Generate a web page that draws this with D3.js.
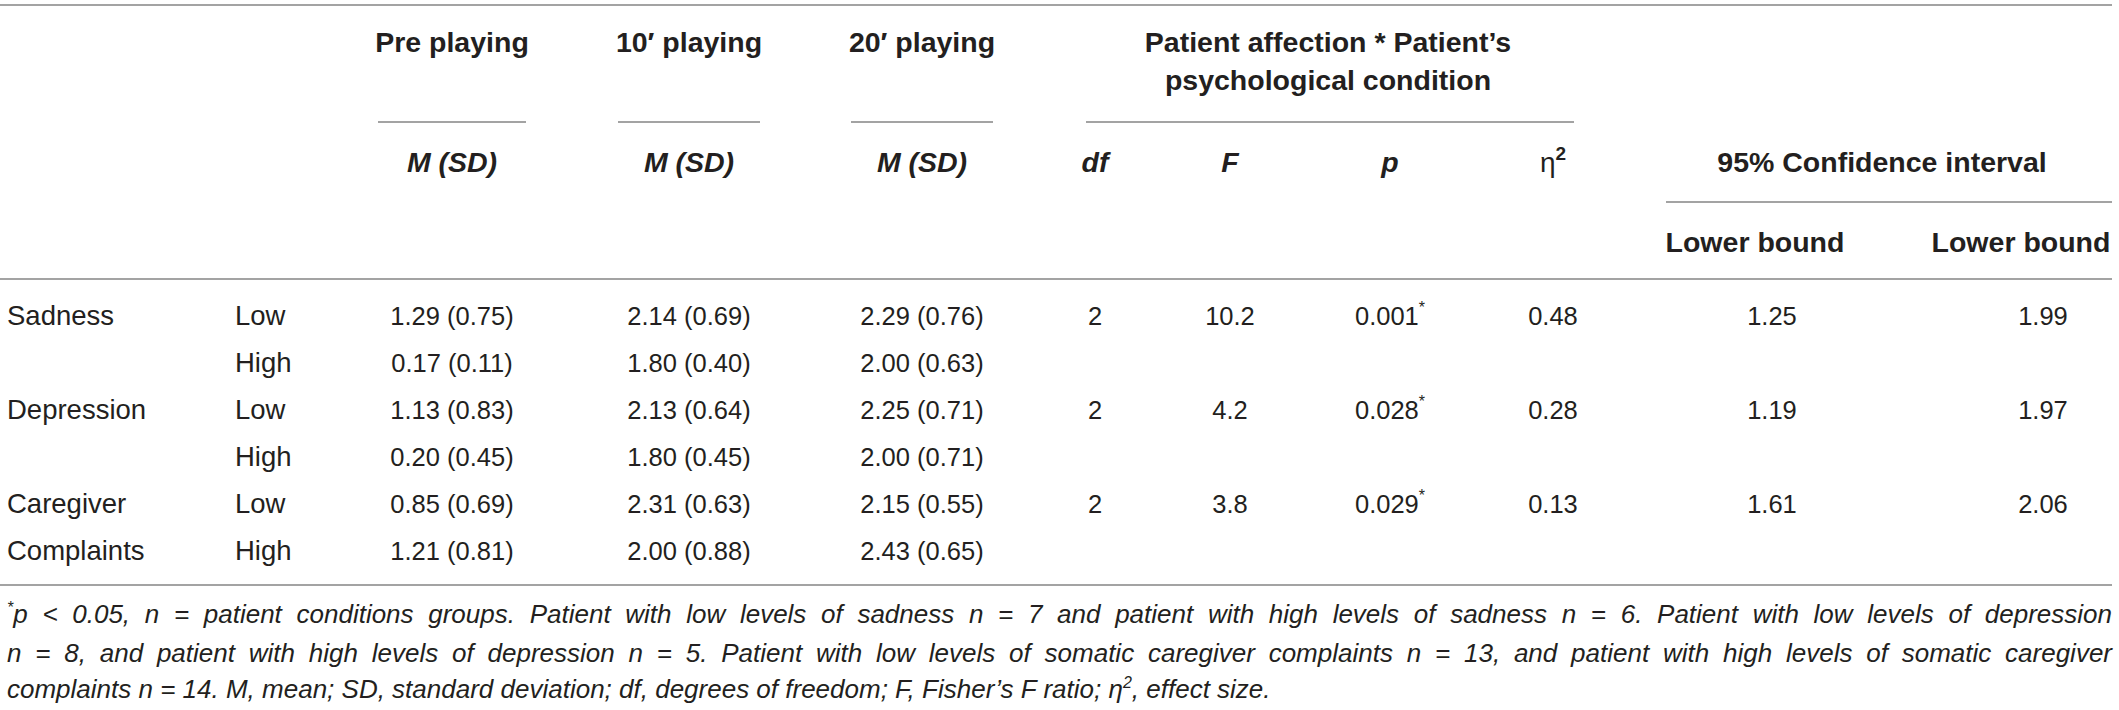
<!DOCTYPE html>
<html>
<head>
<meta charset="utf-8">
<script src="https://cdn.jsdelivr.net/npm/d3@7"></script>
<style>
  html, body { margin: 0; padding: 0; background: #fff; }
  svg { display: block; font-family: "Liberation Sans", Arial, sans-serif; }
</style>
</head>
<body>
<div id="table"></div>
<script>
// table values, one row per condition level
const groupLabels = ["Sadness", "", "Depression", "", "Caregiver", "Complaints"]
const levels = ["Low", "High", "Low", "High", "Low", "High"]
const preMean = [1.29, 0.17, 1.13, 0.20, 0.85, 1.21]
const preSD = [0.75, 0.11, 0.83, 0.45, 0.69, 0.81]
const min10Mean = [2.14, 1.80, 2.13, 1.80, 2.31, 2.00]
const min10SD = [0.69, 0.40, 0.64, 0.45, 0.63, 0.88]
const min20Mean = [2.29, 2.00, 2.25, 2.00, 2.15, 2.43]
const min20SD = [0.76, 0.63, 0.71, 0.71, 0.55, 0.65]

// interaction stats, one per affection (on the "Low" row)
const dfValues = [2, 2, 2]
const fValues = [10.2, 4.2, 3.8]
const pValues = [0.001, 0.028, 0.029]
const etaValues = [0.48, 0.28, 0.13]
const ciLower = [1.25, 1.19, 1.61]
const ciUpper = [1.99, 1.97, 2.06]

const footnote = [
    [["sup", "*"], ["it", "p < 0.05, n = patient conditions groups. Patient with low levels of sadness n = 7 and patient with high levels of sadness n = 6. Patient with low levels of depression"]],
    [["it", "n = 8, and patient with high levels of depression n = 5. Patient with low levels of somatic caregiver complaints n = 13, and patient with high levels of somatic caregiver"]],
    [["it", "complaints n = 14. M, mean; SD, standard deviation; df, degrees of freedom; F, Fisher\u2019s F ratio; \u03b7"], ["sup", "2"], ["it", ", effect size."]]
]

const W = 2119, H = 710
const ink = "#231f20"
const rule = "#a3a3a3"

const svg = d3.select("#table").append("svg")
    .attr("width", W)
    .attr("height", H)

const colX = d3.scaleOrdinal()
    .domain(["group", "level", "pre", "m10", "m20", "df", "F", "p", "eta", "lo", "hi"])
    .range([7, 235, 452, 689, 922, 1095, 1230, 1390, 1553, 1772, 2043])

const rowY = d3.scaleLinear().domain([0, 5]).range([325, 560])

const f2 = d3.format(".2f"), f1 = d3.format(".1f"), f3 = d3.format(".3f")

function line(x1, x2, y) {
    svg.append("line")
        .attr("x1", x1).attr("x2", x2)
        .attr("y1", y).attr("y2", y)
        .attr("stroke", rule)
        .attr("stroke-width", 2)
}

// rules
line(0, 2112, 5)
line(colX("pre") - 74, colX("pre") + 74, 122)
line(colX("m10") - 71, colX("m10") + 71, 122)
line(colX("m20") - 71, colX("m20") + 71, 122)
line(1086, 1574, 122)
line(1666, 2112, 202)
line(0, 2112, 279)
line(0, 2112, 585)

function label(x, y, txt, opts) {
    opts = opts || {}
    return svg.append("text")
        .attr("x", x).attr("y", y)
        .attr("text-anchor", opts.anchor || "middle")
        .attr("font-size", opts.size || 28.5)
        .attr("font-weight", opts.weight || "normal")
        .attr("font-style", opts.style || "normal")
        .attr("fill", ink)
        .text(txt)
}

// header
const bold = { weight: "bold" }
const boldIt = { weight: "bold", style: "italic" }
label(colX("pre"), 52, "Pre playing", bold)
label(colX("m10"), 52, "10\u2032 playing", bold)
label(colX("m20"), 52, "20\u2032 playing", bold)
label(1328, 52, "Patient affection * Patient\u2019s", bold)
label(1328, 90, "psychological condition", bold)

;["pre", "m10", "m20"].forEach(k => label(colX(k), 172, "M (SD)", boldIt))
label(colX("df"), 172, "df", boldIt)
label(colX("F"), 172, "F", boldIt)
label(colX("p"), 172, "p", boldIt)
const eta = label(colX("eta"), 172, "\u03b7", { size: 28 })
eta.append("tspan").attr("font-weight", "bold").attr("font-size", 19).attr("dy", -12).text("2")
label(1882, 172, "95% Confidence interval", bold)
label(1755, 252, "Lower bound", bold)
label(2021, 252, "Lower bound", bold)

// body rows
const body = svg.append("g").attr("font-size", 25.5).attr("fill", ink)

const rows = levels.map((lv, i) => ({
    i: i,
    group: groupLabels[i],
    level: lv,
    pre: f2(preMean[i]) + " (" + f2(preSD[i]) + ")",
    m10: f2(min10Mean[i]) + " (" + f2(min10SD[i]) + ")",
    m20: f2(min20Mean[i]) + " (" + f2(min20SD[i]) + ")"
}))

const rowG = body.selectAll("g.row").data(rows).enter().append("g")
    .attr("class", "row")
    .attr("transform", d => "translate(0," + rowY(d.i) + ")")

rowG.append("text").attr("x", colX("group")).attr("font-size", 27.5).text(d => d.group)
rowG.append("text").attr("x", colX("level")).attr("font-size", 27.5).text(d => d.level)
;["pre", "m10", "m20"].forEach(k => {
    rowG.append("text").attr("x", colX(k)).attr("text-anchor", "middle").text(d => d[k])
})

const stats = dfValues.map((df, j) => ({
    row: j * 2,
    df: String(df),
    F: f1(fValues[j]),
    p: f3(pValues[j]),
    eta: f2(etaValues[j]),
    lo: f2(ciLower[j]),
    hi: f2(ciUpper[j])
}))

const statG = body.selectAll("g.stat").data(stats).enter().append("g")
    .attr("class", "stat")
    .attr("transform", d => "translate(0," + rowY(d.row) + ")")

;["df", "F", "eta", "lo", "hi"].forEach(k => {
    statG.append("text").attr("x", colX(k)).attr("text-anchor", "middle").text(d => d[k])
})
const pText = statG.append("text").attr("x", colX("p")).attr("text-anchor", "middle")
pText.append("tspan").text(d => d.p)
pText.append("tspan").attr("font-size", 16).attr("dy", -12).text("*")

// footnote, first two lines justified
const noteY = [623, 662, 698]
footnote.forEach((parts, li) => {
    const t = svg.append("text")
        .attr("x", 7).attr("y", noteY[li])
        .attr("font-size", 26)
        .attr("font-style", "italic")
        .attr("fill", ink)
    parts.forEach(([kind, s]) => {
        const ts = t.append("tspan").text(s)
        if (kind === "sup") {
            ts.attr("font-size", 16).attr("dy", -10)
        } else if (t.selectAll("tspan").size() > 1) {
            ts.attr("dy", 10)
        }
    })
    if (li < 2) {
        const len = t.node().getComputedTextLength()
        const spaces = parts.map(p => p[1]).join("").split(" ").length - 1
        t.attr("word-spacing", ((2112 - 7) - len) / spaces)
    }
})
</script>
</body>
</html>
